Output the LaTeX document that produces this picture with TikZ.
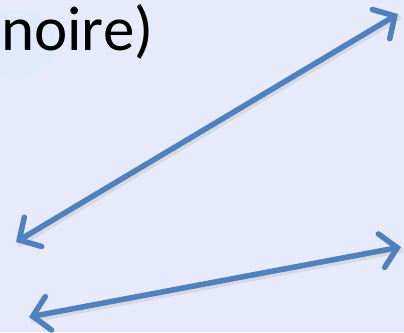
\documentclass[tikz,border=0pt]{standalone}
\usepackage{fontspec}
\setmainfont{Carlito}
\usetikzlibrary{arrows.meta}
\definecolor{bgcol}{HTML}{E6EAFA}
\definecolor{arrcol}{HTML}{4F81BD}
\begin{document}
\begin{tikzpicture}[x=1pt,y=-1pt,
  dbl/.style={draw=arrcol,line width=5.5pt,line cap=round,
    {Straight Barb[length=16pt,width=34pt,line width=5.5pt,line cap=round]}-{Straight Barb[length=16pt,width=34pt,line width=5.5pt,line cap=round]}},
  shadowline/.style={draw=black!30,opacity=0.3,line width=5.5pt}]
\fill[bgcol] (0,0) rectangle (404,332);
\useasboundingbox (0,0) rectangle (404,332);
\fill[cyan!25,opacity=0.15] (15,45) ellipse (40 and 35);
\node[anchor=base west,inner sep=0pt,font=\fontsize{63}{68}\selectfont] (t) at (1,50) {noire)};
\coordinate (a1) at (16,242);
\coordinate (a2) at (398,14);
\coordinate (b1) at (29,317);
\coordinate (b2) at (401,247);
\draw[shadowline] ([shift={(2,3)}]a1) -- ([shift={(2,3)}]a2);
\draw[shadowline] ([shift={(2,3)}]b1) -- ([shift={(2,3)}]b2);
\draw[dbl] (a1) -- (a2);
\draw[dbl] (b1) -- (b2);
\end{tikzpicture}
\end{document}
